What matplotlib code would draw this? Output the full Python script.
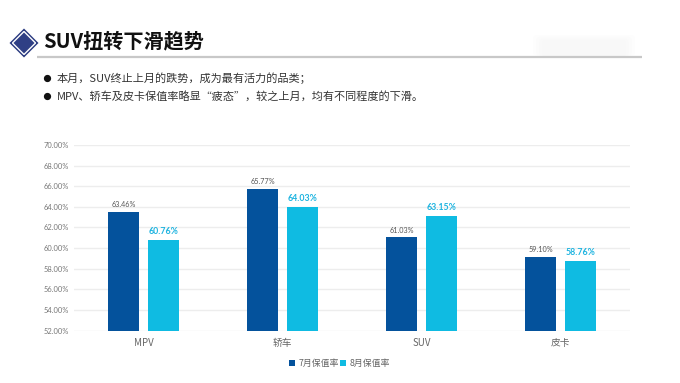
import matplotlib
matplotlib.use("Agg")
import matplotlib.pyplot as plt
import numpy as np
from matplotlib.patches import Polygon, FancyBboxPatch
from matplotlib.lines import Line2D

plt.rcParams['font.family'] = ['Noto Sans CJK SC', 'DejaVu Sans']

categories = ['MPV', '轿车', 'SUV', '皮卡']
series_names = ['7月保值率', '8月保值率']
july = [63.46, 65.77, 61.03, 59.10]
august = [60.76, 64.03, 63.15, 58.76]
yticks = [52, 54, 56, 58, 60, 62, 64, 66, 68, 70]
title = 'SUV扭转下滑趋势'
bullets = ['本月，SUV终止上月的跌势，成为最有活力的品类；',
           'MPV、轿车及皮卡保值率略显“疲态”，较之上月，均有不同程度的下滑。']

W, H = 680, 383
DARK, LIGHT = '#04529C', '#0FBBE2'
NUM = ['Lato', 'DejaVu Sans']
fig = plt.figure(figsize=(W / 100, H / 100), dpi=100, facecolor='white')

# page furniture, in pixel coordinates
bg = fig.add_axes([0, 0, 1, 1])
bg.set_xlim(0, W)
bg.set_ylim(H, 0)
bg.axis('off')
bg.add_patch(Polygon([(24, 28.5), (38.5, 43), (24, 57.5), (9.5, 43)], fc='#2A3A80', ec='none'))
bg.add_patch(Polygon([(24, 31.5), (35.5, 43), (24, 54.5), (12.5, 43)], fc='#2F3F85', ec='white', lw=1.0))
# faint smudge top right
for inset in (0, 3, 6, 9):
    bg.add_patch(FancyBboxPatch((534 + inset, 36 + inset * 0.6), 100 - 2 * inset, 19 - inset * 0.6,
                                boxstyle='round,pad=1,rounding_size=4',
                                fc='#EDEDED', ec='none', alpha=0.08))
bg.plot([37, 642], [57, 57], color='#C8C8C8', lw=1.6, solid_capstyle='butt')
bg.text(43, 41, title, fontsize=14.5, fontweight='bold', color='#111111', va='center', ha='left')
for yy, txt in zip([78, 96], bullets):
    bg.plot([47], [yy], 'o', color='#111111', ms=4.2)
    bg.text(57, yy, txt, fontsize=8, color='#333333', va='center', ha='left')

# chart
ax = fig.add_axes([74 / W, 1 - 330.5 / H, (630 - 74) / W, (330.5 - 145) / H])
ax.patch.set_alpha(0)
x = np.arange(len(categories))
w, off = 0.223, 0.144
ax.bar(x - off, july, w, color=DARK, zorder=3)
ax.bar(x + off, august, w, color=LIGHT, zorder=3)
ax.set_xlim(-0.5, 3.5)
ax.set_ylim(52, 70)
ax.set_yticks(yticks)
ax.set_yticklabels([f'{v:.2f}%' for v in yticks], fontsize=5.4, color='#777777', family=NUM)
ax.set_xticks(x)
ax.set_xticklabels(categories, fontsize=7, color='#666666')
ax.tick_params(length=0, axis='both')
ax.tick_params(axis='y', pad=3.5)
ax.tick_params(axis='x', pad=5.5)
ax.grid(axis='y', color='#EDEDED', lw=1, zorder=0)
ax.set_axisbelow(True)
for s in ax.spines.values():
    s.set_visible(False)
for xi, v in zip(x - off, july):
    ax.text(xi, v + 0.38, f'{v:.2f}%', ha='center', va='bottom', fontsize=5.2, color='#555555', family=NUM)
for xi, v in zip(x + off, august):
    ax.text(xi, v + 0.38, f'{v:.2f}%', ha='center', va='bottom', fontsize=6.3, color='#1FB4E0',
            fontweight='bold', family=NUM)

handles = [Line2D([], [], ls='', marker='s', ms=3.8, color=c, mew=0) for c in (DARK, LIGHT)]
fig.legend(handles=handles, labels=series_names, loc='center', bbox_to_anchor=(339.5 / W, 1 - 363.5 / H),
           ncol=2, frameon=False, fontsize=6.4, labelcolor='#666666', handlelength=0.7,
           handletextpad=0.35, columnspacing=0.2, borderpad=0)

fig.savefig('out.png', dpi=100)
